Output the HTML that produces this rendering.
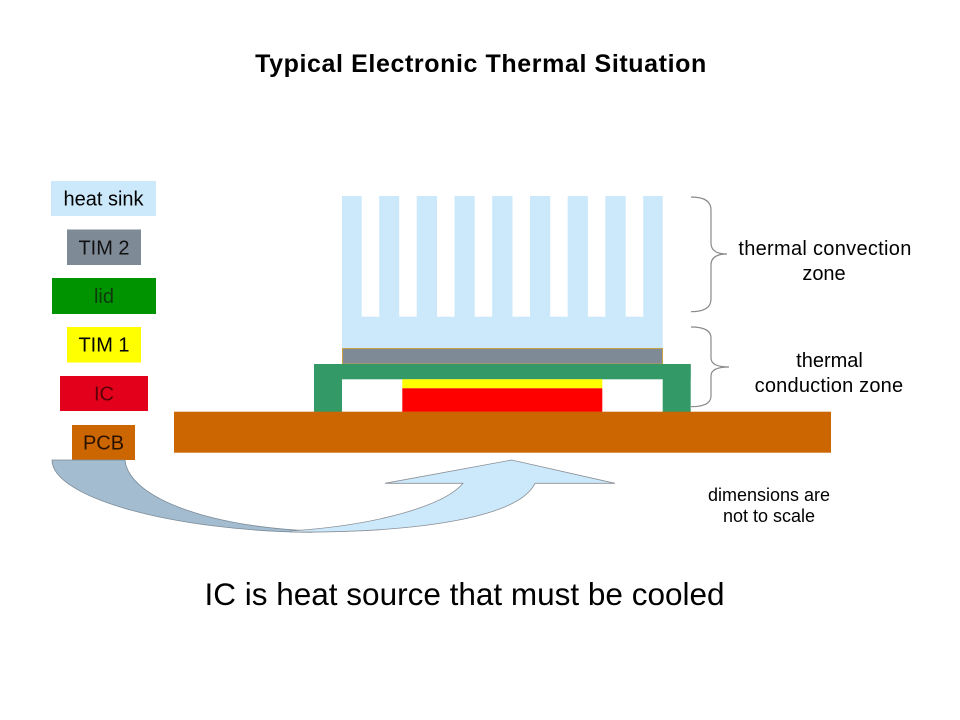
<!DOCTYPE html>
<html>
<head>
<meta charset="utf-8">
<style>
  html, body { margin: 0; padding: 0; background: #ffffff; }
  body { width: 960px; height: 720px; overflow: hidden; }
  svg { display: block; }
  text { font-family: "Liberation Sans", Arial, sans-serif; }
</style>
</head>
<body>
<svg width="960" height="720" viewBox="0 0 960 720" xmlns="http://www.w3.org/2000/svg">
  <rect x="0" y="0" width="960" height="720" fill="#ffffff"/>

  <!-- Title -->
  <text x="481" y="72" font-size="25" font-weight="bold" text-anchor="middle" letter-spacing="0.6" fill="#000">Typical Electronic Thermal Situation</text>

  <!-- Legend -->
  <rect x="51" y="181" width="105" height="35" fill="#cce9fb"/>
  <text x="103.5" y="205.5" font-size="20" text-anchor="middle" fill="#000">heat sink</text>

  <rect x="67" y="229.5" width="74" height="35.5" fill="#7f8a97"/>
  <text x="104" y="254.5" font-size="20" text-anchor="middle" fill="#111">TIM 2</text>

  <rect x="52" y="278" width="104" height="36" fill="#009300"/>
  <text x="104" y="303" font-size="20" text-anchor="middle" fill="#0e3a0e">lid</text>

  <rect x="67" y="327" width="74" height="35.5" fill="#ffff00"/>
  <text x="104" y="351.5" font-size="20" text-anchor="middle" fill="#000">TIM 1</text>

  <rect x="60" y="376" width="88" height="35" fill="#e2001a"/>
  <text x="104" y="400.5" font-size="20" text-anchor="middle" fill="#5a0008">IC</text>

  <rect x="72" y="425" width="63" height="35" fill="#cc6600"/>
  <text x="103.5" y="449.5" font-size="20" text-anchor="middle" fill="#2a1200">PCB</text>

  <!-- Heat sink -->
  <rect x="342" y="196" width="320.7" height="153" fill="#cce9fb"/>
  <g fill="#ffffff">
    <rect x="361.7" y="196" width="17.5" height="120.7"/>
    <rect x="399.2" y="196" width="17.5" height="120.7"/>
    <rect x="437" y="196" width="17.5" height="120.7"/>
    <rect x="474.7" y="196" width="17.5" height="120.7"/>
    <rect x="512.5" y="196" width="17.5" height="120.7"/>
    <rect x="550.2" y="196" width="17.5" height="120.7"/>
    <rect x="587.9" y="196" width="17.5" height="120.7"/>
    <rect x="625.7" y="196" width="17.5" height="120.7"/>
  </g>

  <!-- TIM 2 -->
  <rect x="342.5" y="348.5" width="320" height="15.5" fill="#7f8a97" stroke="#c9a04a" stroke-width="1"/>

  <!-- Lid -->
  <g fill="#339966">
    <rect x="314" y="364" width="376.7" height="15.3"/>
    <rect x="314" y="364" width="28" height="48"/>
    <rect x="662.7" y="364" width="28" height="48"/>
  </g>

  <!-- TIM 1 and IC -->
  <rect x="402.3" y="379.3" width="200" height="9" fill="#ffff00"/>
  <rect x="402.3" y="388.3" width="200" height="23.6" fill="#ff0000"/>

  <!-- PCB -->
  <rect x="174" y="411.7" width="657" height="41" fill="#cc6600"/>

  <!-- Braces -->
  <path d="M691,197 Q711,197 711,210 L711,243 Q711,254 727,254 Q711,254 711,265 L711,299 Q711,311.7 691,311.7" fill="none" stroke="#8a8a8a" stroke-width="1.2"/>
  <path d="M691,327 Q711,327 711,338 L711,358 Q711,367 729,367 Q711,367 711,376 L711,396 Q711,406.7 691,406.7" fill="none" stroke="#8a8a8a" stroke-width="1.2"/>

  <!-- Right labels -->
  <text x="825" y="255" font-size="20" text-anchor="middle" letter-spacing="0.3" fill="#000">thermal  convection</text>
  <text x="824" y="280" font-size="20" text-anchor="middle" fill="#000">zone</text>
  <text x="829.5" y="367" font-size="20" text-anchor="middle" fill="#000">thermal</text>
  <text x="829" y="392" font-size="20" text-anchor="middle" letter-spacing="0.2" fill="#000">conduction  zone</text>

  <text x="769" y="501" font-size="18" text-anchor="middle" fill="#000">dimensions are</text>
  <text x="769" y="522" font-size="18" text-anchor="middle" fill="#000">not to scale</text>

  <!-- Curved arrow: back (dark) part -->
  <path d="M52,460 L125,460 C128,495 200,526 312,531 L312,532.3 C170,531 52,497 52,460 Z" fill="#a3bccf" stroke="#7d8d9a" stroke-width="0.8"/>
  <!-- Curved arrow: front (light) part -->
  <path d="M290,532 C430,533 520,515 535,483.3 L615,483.3 L511.7,460 L385,483.3 L463,483.3 C445,505 380,525 290,531 Z" fill="#cce9fb" stroke="#8a8f96" stroke-width="0.8"/>

  <!-- Bottom statement -->
  <text x="464.5" y="605" font-size="31.5" text-anchor="middle" fill="#000">IC is heat source that must be cooled</text>
</svg>
</body>
</html>
